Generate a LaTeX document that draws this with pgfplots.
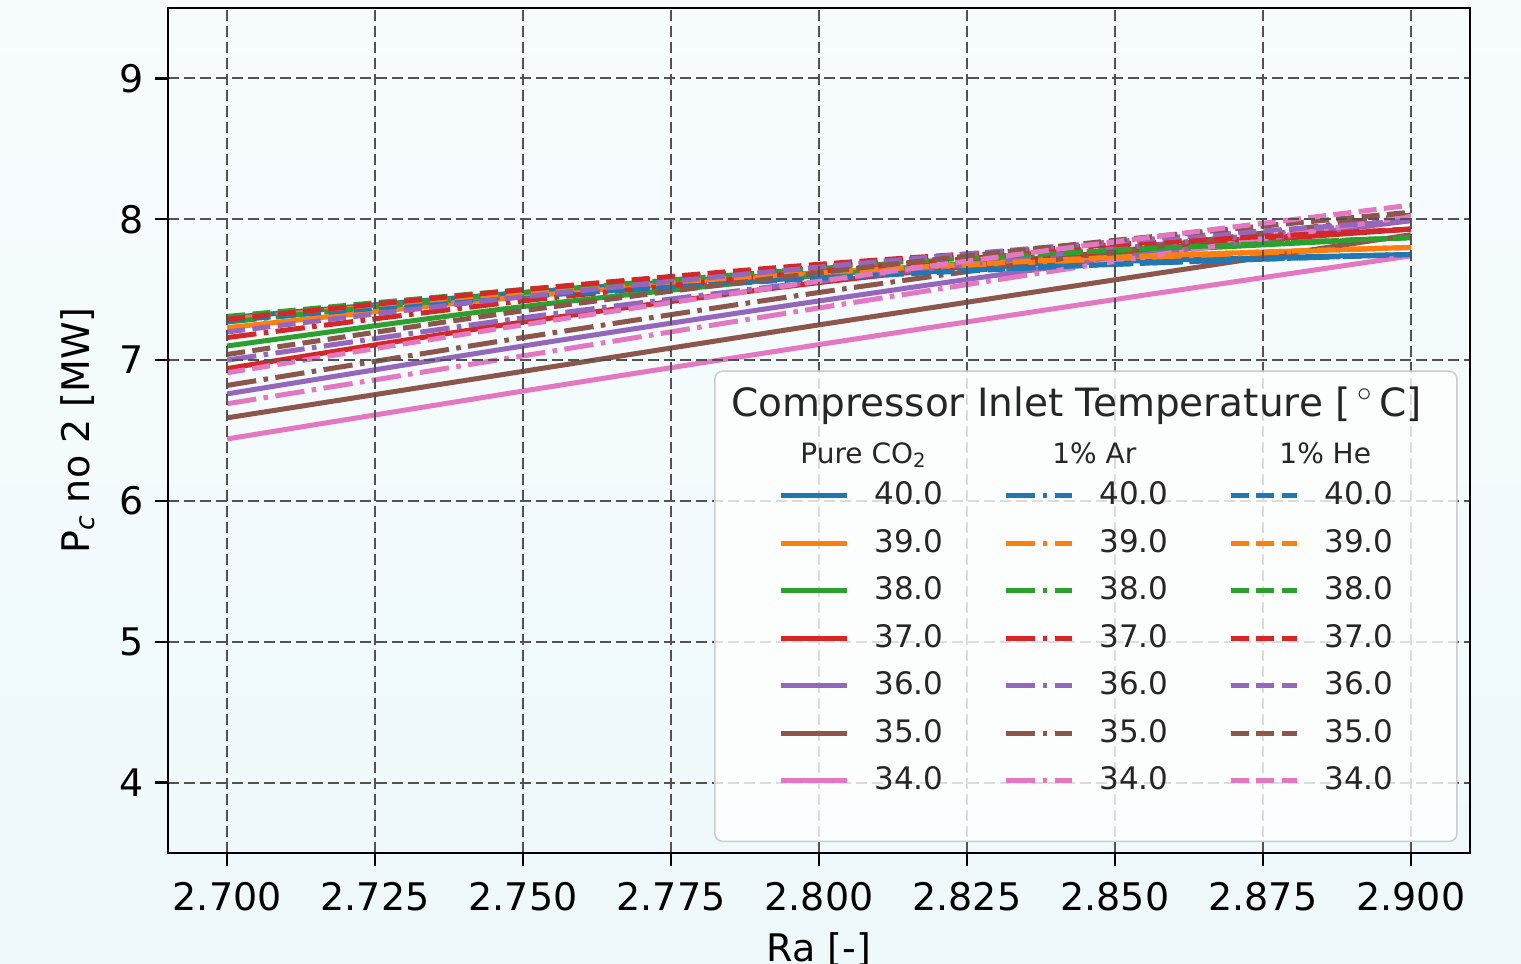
\documentclass[border=0pt]{standalone}
\usepackage{fontspec}
\setmainfont{DejaVu Sans}
\usepackage{pgfplots}
\usepackage{pgfplotstable}
\pgfplotsset{compat=1.18}

\definecolor{tblue}{HTML}{1F77B4}
\definecolor{torange}{HTML}{FF7F0E}
\definecolor{tgreen}{HTML}{2CA02C}
\definecolor{tred}{HTML}{D62728}
\definecolor{tpurple}{HTML}{9467BD}
\definecolor{tbrown}{HTML}{8C564B}
\definecolor{tpink}{HTML}{E377C2}
\definecolor{bgtop}{RGB}{247,252,254}
\definecolor{bgbot}{RGB}{238,249,252}

\pgfplotstableread{
x     t40  t39  t38  t37  t36  t35  t34
2.700 7.30 7.23 7.10 6.94 6.76 6.59 6.44
2.750 7.48 7.45 7.38 7.27 7.10 6.92 6.78
2.800 7.62 7.62 7.60 7.55 7.42 7.25 7.11
2.850 7.70 7.73 7.76 7.77 7.72 7.57 7.43
2.900 7.75 7.80 7.87 7.93 7.99 7.89 7.74
}\pure

\pgfplotstableread{
x     t40  t39  t38  t37  t36  t35  t34
2.700 7.30 7.29 7.27 7.16 7.00 6.82 6.69
2.750 7.46 7.47 7.48 7.42 7.30 7.16 7.03
2.800 7.59 7.62 7.65 7.63 7.56 7.48 7.37
2.850 7.68 7.72 7.78 7.80 7.79 7.77 7.70
2.900 7.75 7.80 7.87 7.93 7.99 8.03 8.02
}\argon

\pgfplotstableread{
x     t40  t39  t38  t37  t36  t35  t34
2.700 7.28 7.30 7.31 7.29 7.20 7.04 6.91
2.750 7.45 7.48 7.50 7.50 7.45 7.35 7.25
2.800 7.58 7.62 7.66 7.68 7.66 7.62 7.56
2.850 7.68 7.73 7.78 7.82 7.84 7.85 7.84
2.900 7.75 7.80 7.87 7.93 7.99 8.05 8.10
}\helium

\pgfplotsset{
  ps/.style={line width=2.5pt, smooth},
  pd/.style={line width=2.5pt, smooth, dash pattern=on 14.7pt off 3.7pt on 2.3pt off 3.7pt},
  pe/.style={line width=2.5pt, smooth, dash pattern=on 9pt off 3.7pt},
}

\begin{document}
\begin{tikzpicture}
\shade[top color=bgtop, bottom color=bgbot] (-84pt,-55.5pt) rectangle (676.5pt,426.5pt);
\begin{axis}[
  set layers=axis on top,
  scale only axis, width=651pt, height=422.5pt,
  xmin=2.69, xmax=2.91, ymin=3.5, ymax=9.5,
  xtick={2.7,2.725,2.75,2.775,2.8,2.825,2.85,2.875,2.9},
  ytick={4,5,6,7,8,9},
  /pgf/number format/assume math mode=true,
  tick label style={font=\fontsize{19}{22}\selectfont, black},
  xticklabel style={yshift=-4.5pt, /pgf/number format/.cd, fixed, fixed zerofill, precision=3},
  yticklabel style={xshift=-2pt},
  tick align=outside, tick pos=left,
  major tick length=6.5pt,
  tick style={black, line width=1.2pt},
  axis line style={black, line width=1.25pt},
  grid=major,
  major grid style={black!68, line width=1pt, dash pattern=on 5.5pt off 2.5pt},
  xlabel={Ra [-]},
  xlabel style={font=\fontsize{19}{22}\selectfont, at={(axis description cs:0.5,0)}, anchor=base, yshift=-54pt},
  ylabel={P\textsubscript{\textit{c}} no 2 [MW]},
  ylabel style={font=\fontsize{19}{22}\selectfont, at={(axis description cs:-0.0691,0.5)}, anchor=center},
  legend columns=8, transpose legend,
  legend cell align=left,
  legend image code/.code={\draw[#1] (0pt,0pt) -- (33pt,0pt);},
  legend style={at={(axis description cs:0.4685,0.4975)}, anchor=north west,
    draw=none, fill=none, inner sep=0pt, text=black!85,
    font=\fontsize{15.5}{18}\selectfont, row sep=8.75pt,
    nodes={inner sep=0pt, text height=12pt, text depth=3pt},
    /tikz/every odd column/.append style={column sep=12.5pt},
    /tikz/every even column/.append style={column sep=30pt},
    /tikz/column 2/.append style={column sep=32.5pt},
    /tikz/column 4/.append style={column sep=27.5pt}},
]
\addlegendimage{empty legend}
\addlegendentry{\hspace*{-37pt}\raisebox{-3pt}{\fontsize{14}{16}\selectfont Pure CO\textsubscript{2}}}
\addplot[ps, tblue]    table[x=x,y=t40]{\pure}; \addlegendentry{40.0}
\addplot[ps, torange]  table[x=x,y=t39]{\pure}; \addlegendentry{39.0}
\addplot[ps, tgreen]   table[x=x,y=t38]{\pure}; \addlegendentry{38.0}
\addplot[ps, tred]     table[x=x,y=t37]{\pure}; \addlegendentry{37.0}
\addplot[ps, tpurple]  table[x=x,y=t36]{\pure}; \addlegendentry{36.0}
\addplot[ps, tbrown]   table[x=x,y=t35]{\pure}; \addlegendentry{35.0}
\addplot[ps, tpink]    table[x=x,y=t34]{\pure}; \addlegendentry{34.0}

\addlegendimage{empty legend}
\addlegendentry{\hspace*{-23.5pt}\raisebox{-3pt}{\fontsize{14}{16}\selectfont 1\% Ar}}
\addplot[pd, tblue]    table[x=x,y=t40]{\argon}; \addlegendentry{40.0}
\addplot[pd, torange]  table[x=x,y=t39]{\argon}; \addlegendentry{39.0}
\addplot[pd, tgreen]   table[x=x,y=t38]{\argon}; \addlegendentry{38.0}
\addplot[pd, tred]     table[x=x,y=t37]{\argon}; \addlegendentry{37.0}
\addplot[pd, tpurple]  table[x=x,y=t36]{\argon}; \addlegendentry{36.0}
\addplot[pd, tbrown]   table[x=x,y=t35]{\argon}; \addlegendentry{35.0}
\addplot[pd, tpink]    table[x=x,y=t34]{\argon}; \addlegendentry{34.0}

\addlegendimage{empty legend}
\addlegendentry{\hspace*{-22.5pt}\raisebox{-3pt}{\fontsize{14}{16}\selectfont 1\% He}}
\addplot[pe, tblue]    table[x=x,y=t40]{\helium}; \addlegendentry{40.0}
\addplot[pe, torange]  table[x=x,y=t39]{\helium}; \addlegendentry{39.0}
\addplot[pe, tgreen]   table[x=x,y=t38]{\helium}; \addlegendentry{38.0}
\addplot[pe, tred]     table[x=x,y=t37]{\helium}; \addlegendentry{37.0}
\addplot[pe, tpurple]  table[x=x,y=t36]{\helium}; \addlegendentry{36.0}
\addplot[pe, tbrown]   table[x=x,y=t35]{\helium}; \addlegendentry{35.0}
\addplot[pe, tpink]    table[x=x,y=t34]{\helium}; \addlegendentry{34.0}

\begin{pgfonlayer}{axis tick labels}
\draw[rounded corners=4pt, draw=black!20, line width=0.75pt, fill=white, fill opacity=0.8]
  (axis cs:2.7824,6.922) rectangle (axis cs:2.9078,3.582);
\node[font=\fontsize{19.5}{22}\selectfont, text=black!85] at (axis cs:2.8435,6.675)
  {Compressor Inlet Temperature [\,$^\circ$\,C]};
\end{pgfonlayer}
\end{axis}
\pgfresetboundingbox
\path[use as bounding box] (-84pt,-55.5pt) rectangle (676.5pt,426.5pt);
\end{tikzpicture}
\end{document}
